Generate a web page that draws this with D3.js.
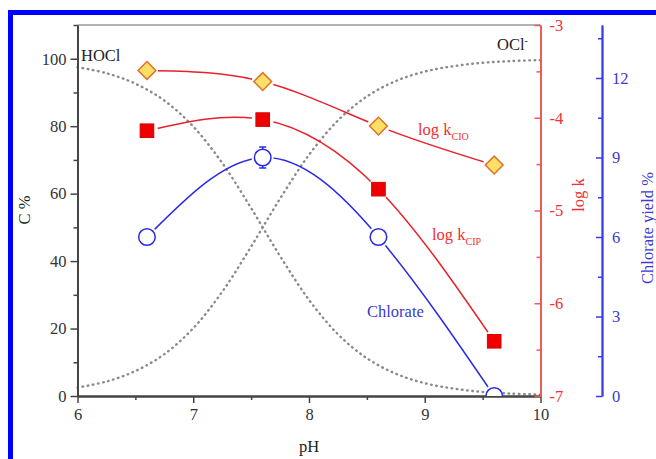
<!DOCTYPE html>
<html>
<head>
<meta charset="utf-8">
<script src="https://cdn.jsdelivr.net/npm/d3@7"></script>
<style>
  body { margin: 0; background: #fff; }
  text { font-family: "Liberation Serif", "DejaVu Serif", serif; }
</style>
</head>
<body>
<div id="chart"></div>
<script>
// measured points
var phPoints = [6.6, 7.6, 8.6, 9.6];
var logKClO = [-3.49, -3.61, -4.09, -4.51];
var logKClP = [-4.14, -4.02, -4.77, -6.41];
var chlorateYield = [6.0, 9.0, 6.0, 0.0];
var chlorateErr = [0, 0.4, 0, 0];

// speciation curves
var phGrid = [6, 6.25, 6.5, 6.75, 7, 7.25, 7.5, 7.75, 8, 8.25, 8.5, 8.75, 9, 9.25, 9.5, 9.75, 10];
var hoclPct = [97.5, 95.7, 92.6, 87.6, 79.9, 69.1, 55.7, 41.5, 28.5, 18.3, 11.2, 6.6, 3.8, 2.2, 1.2, 0.7, 0.4];
var oclPct = [2.5, 4.3, 7.4, 12.4, 20.1, 30.9, 44.3, 58.5, 71.5, 81.7, 88.8, 93.4, 96.2, 97.8, 98.8, 99.3, 99.6];

var xTicks = [6, 7, 8, 9, 10];
var leftTicks = [0, 20, 40, 60, 80, 100];
var redTicks = [-7, -6, -5, -4, -3];
var blueTicks = [0, 3, 6, 9, 12];

var W = 656, H = 459;
var pL = 77.5, pR = 540.5, pT = 25, pB = 396;
var fs = "16.5px";

var svg = d3.select("#chart").append("svg")
    .attr("width", W)
    .attr("height", H);

// blue frame of the figure
svg.append("rect")
    .attr("x", 10.5).attr("y", 12.5)
    .attr("width", 800).attr("height", 600)
    .attr("fill", "none")
    .attr("stroke", "#0000ff")
    .attr("stroke-width", 5);

var x = d3.scaleLinear().domain([6, 10]).range([pL, pR]);
var yL = d3.scaleLinear().domain([0, 110]).range([pB, pT]);
var yR = d3.scaleLinear().domain([-7, -3]).range([pB, pT]);
var yB = d3.scaleLinear().domain([0, 14]).range([pB, pT]);

var defs = svg.append("defs");
defs.append("clipPath").attr("id", "plotClip")
    .append("rect")
    .attr("x", pL).attr("y", pT)
    .attr("width", pR - pL).attr("height", pB - pT);

// mask that leaves a gap round each marker
function makeMask(id, ys) {
    var m = defs.append("mask").attr("id", id)
        .attr("maskUnits", "userSpaceOnUse")
        .attr("x", 0).attr("y", 0).attr("width", W).attr("height", H);
    m.append("rect").attr("width", W).attr("height", H).attr("fill", "white");
    m.selectAll("circle")
        .data(phPoints)
        .enter().append("circle")
        .attr("cx", function(d) { return x(d); })
        .attr("cy", function(d, i) { return ys(i); })
        .attr("r", 11)
        .attr("fill", "black");
}
makeMask("mClO", function(i) { return yR(logKClO[i]); });
makeMask("mClP", function(i) { return yR(logKClP[i]); });
makeMask("mChl", function(i) { return yB(chlorateYield[i]); });

// top frame line
svg.append("line")
    .attr("x1", pL).attr("x2", pR)
    .attr("y1", pT).attr("y2", pT)
    .attr("stroke", "#999")
    .attr("stroke-width", 1.5);

// dotted speciation curves
var specLine = d3.line()
    .x(function(d, i) { return x(phGrid[i]); })
    .y(function(d) { return yL(d); })
    .curve(d3.curveCatmullRom);

[hoclPct, oclPct].forEach(function(s) {
    svg.append("path")
        .attr("d", specLine(s))
        .attr("fill", "none")
        .attr("stroke", "#8a8a8a")
        .attr("stroke-width", 2.4)
        .attr("stroke-linecap", "round")
        .attr("stroke-dasharray", "0.6,4.6");
});

// fitted curves
function seriesLine(vals, scale) {
    return d3.line()
        .x(function(d, i) { return x(phPoints[i]); })
        .y(function(d) { return scale(d); })
        .curve(d3.curveNatural)(vals);
}

svg.append("path")
    .attr("d", seriesLine(logKClO, yR))
    .attr("mask", "url(#mClO)")
    .attr("fill", "none").attr("stroke", "#e8202a").attr("stroke-width", 1.5);
svg.append("path")
    .attr("d", seriesLine(logKClP, yR))
    .attr("mask", "url(#mClP)")
    .attr("fill", "none").attr("stroke", "#e8202a").attr("stroke-width", 1.5);
svg.append("path")
    .attr("d", seriesLine(chlorateYield, yB))
    .attr("mask", "url(#mChl)")
    .attr("fill", "none").attr("stroke", "#2a2ae6").attr("stroke-width", 1.5);

// axes
function styleAxis(g, col, txt) {
    g.selectAll(".domain").attr("stroke", col).attr("stroke-width", 1.8);
    g.selectAll(".tick line").attr("stroke", col).attr("stroke-width", 1.5);
    g.selectAll(".tick text").attr("fill", txt)
        .style("font-size", fs)
        .style("font-family", "'Liberation Serif', serif");
}
var plain = function(d) { return String(d); };

var gx = svg.append("g").attr("transform", "translate(0," + pB + ")")
    .call(d3.axisBottom(x).tickValues(xTicks).tickSize(7).tickSizeOuter(0).tickPadding(5).tickFormat(plain));
styleAxis(gx, "#444", "#333");
var gxm = svg.append("g").attr("transform", "translate(0," + pB + ")")
    .call(d3.axisBottom(x).tickValues([6.5, 7.5, 8.5, 9.5]).tickSize(4).tickSizeOuter(0).tickFormat(""));
styleAxis(gxm, "#444", "#333");

var gl = svg.append("g").attr("transform", "translate(" + pL + ",0)")
    .call(d3.axisLeft(yL).tickValues(leftTicks).tickSize(7).tickSizeOuter(0).tickPadding(4).tickFormat(plain));
styleAxis(gl, "#444", "#333");
var glm = svg.append("g").attr("transform", "translate(" + pL + ",0)")
    .call(d3.axisLeft(yL).tickValues([10, 30, 50, 70, 90, 110]).tickSize(4).tickSizeOuter(0).tickFormat(""));
styleAxis(glm, "#444", "#333");

var gr = svg.append("g").attr("transform", "translate(" + pR + ",0)")
    .call(d3.axisRight(yR).tickValues(redTicks).tickSize(-6).tickSizeOuter(0).tickPadding(9).tickFormat(plain));
styleAxis(gr, "#ee5a5a", "#ee3030");
var grm = svg.append("g").attr("transform", "translate(" + pR + ",0)")
    .call(d3.axisRight(yR).tickValues([-6.5, -5.5, -4.5, -3.5]).tickSize(-4).tickSizeOuter(0).tickFormat(""));
styleAxis(grm, "#ee5a5a", "#ee3030");

var bx = 602;
var gb = svg.append("g").attr("transform", "translate(" + bx + ",0)")
    .call(d3.axisRight(yB).tickValues(blueTicks).tickSize(-6).tickSizeOuter(0).tickPadding(10).tickFormat(plain));
styleAxis(gb, "#3a3ae6", "#3a3ad0");
var gbm = svg.append("g").attr("transform", "translate(" + bx + ",0)")
    .call(d3.axisRight(yB).tickValues([1.5, 4.5, 7.5, 10.5, 13.5]).tickSize(-4).tickSizeOuter(0).tickFormat(""));
styleAxis(gbm, "#3a3ae6", "#3a3ad0");

// markers
svg.selectAll(".dia")
    .data(logKClO)
    .enter().append("rect")
    .attr("class", "dia")
    .attr("x", -6.3).attr("y", -6.3)
    .attr("width", 12.6).attr("height", 12.6)
    .attr("transform", function(d, i) {
        return "translate(" + x(phPoints[i]) + "," + yR(d) + ") rotate(45)";
    })
    .attr("fill", "#ffe066")
    .attr("stroke", "#e0702a")
    .attr("stroke-width", 1.5);

svg.selectAll(".sq")
    .data(logKClP)
    .enter().append("rect")
    .attr("class", "sq")
    .attr("x", function(d, i) { return x(phPoints[i]) - 6.8; })
    .attr("y", function(d) { return yR(d) - 6.8; })
    .attr("width", 13.6).attr("height", 13.6)
    .attr("fill", "#ee0000")
    .attr("stroke", "#dd0000")
    .attr("stroke-width", 1);

var chl = svg.append("g").attr("clip-path", "url(#plotClip)");
var errIdx = d3.range(phPoints.length).filter(function(i) { return chlorateErr[i] > 0; });
chl.selectAll(".err")
    .data(errIdx)
    .enter().append("path")
    .attr("d", function(i) {
        var cx = x(phPoints[i]);
        var y1 = yB(chlorateYield[i] + chlorateErr[i]), y2 = yB(chlorateYield[i] - chlorateErr[i]);
        return "M" + (cx - 3.5) + "," + y1 + "H" + (cx + 3.5) + "M" + cx + "," + y1 + "V" + y2 +
            "M" + (cx - 3.5) + "," + y2 + "H" + (cx + 3.5);
    })
    .attr("fill", "none").attr("stroke", "#2a2ae6").attr("stroke-width", 1.5);
chl.selectAll(".circ")
    .data(chlorateYield)
    .enter().append("circle")
    .attr("cx", function(d, i) { return x(phPoints[i]); })
    .attr("cy", function(d) { return yB(d); })
    .attr("r", 8.3)
    .attr("fill", "#fff")
    .attr("stroke", "#2a2ae6")
    .attr("stroke-width", 1.5);

// labels
svg.append("text").attr("x", 309).attr("y", 452).attr("text-anchor", "middle")
    .attr("fill", "#222").style("font-size", fs).text("pH");
svg.append("text").attr("transform", "translate(30,210) rotate(-90)").attr("text-anchor", "middle")
    .attr("fill", "#222").style("font-size", fs).text("C %");
svg.append("text").attr("transform", "translate(584,195) rotate(-90)").attr("text-anchor", "middle")
    .attr("fill", "#ee3030").style("font-size", fs).text("log k");
svg.append("text").attr("transform", "translate(653,228) rotate(-90)").attr("text-anchor", "middle")
    .attr("fill", "#3a3ad0").style("font-size", fs).text("Chlorate yield %");

svg.append("text").attr("x", 81).attr("y", 61)
    .attr("fill", "#222").style("font-size", fs).text("HOCl");
var ocl = svg.append("text").attr("x", 497).attr("y", 50)
    .attr("fill", "#222").style("font-size", fs);
ocl.append("tspan").text("OCl");
ocl.append("tspan").attr("dy", -6).style("font-size", "10px").text("-");

var t1 = svg.append("text").attr("x", 418).attr("y", 135).attr("fill", "#ee3030").style("font-size", fs);
t1.append("tspan").text("log k");
t1.append("tspan").attr("dy", 5).style("font-size", "10px").text("CIO");
var t2 = svg.append("text").attr("x", 432).attr("y", 240).attr("fill", "#ee3030").style("font-size", fs);
t2.append("tspan").text("log k");
t2.append("tspan").attr("dy", 5).style("font-size", "10px").text("CIP");
svg.append("text").attr("x", 367).attr("y", 317).attr("fill", "#3a3ad0").style("font-size", fs).text("Chlorate");
</script>
</body>
</html>
